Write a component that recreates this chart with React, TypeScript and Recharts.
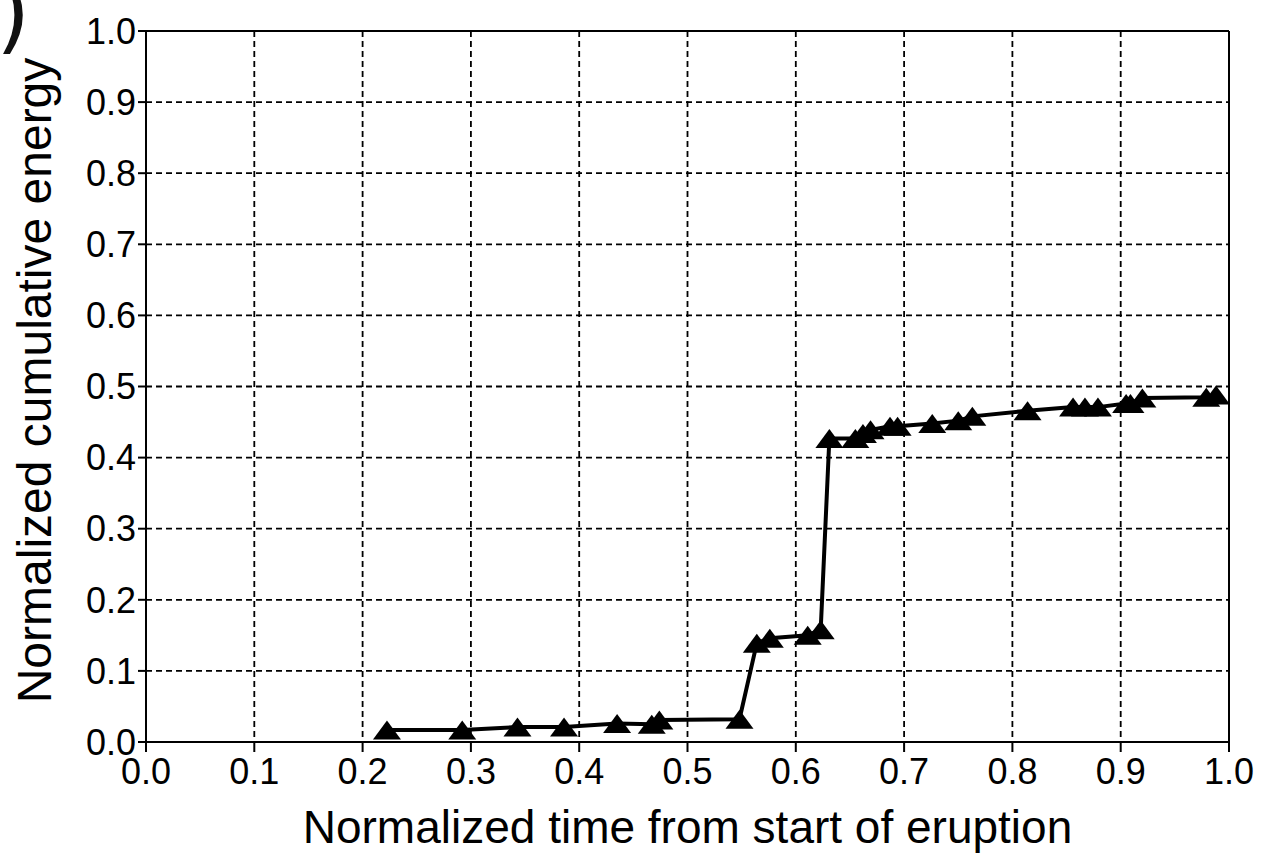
import {
  LineChart,
  Line,
  XAxis,
  YAxis,
  CartesianGrid,
  ReferenceLine,
} from "recharts";

// normalized time (x) and normalized cumulative energy (y)
const times = [
  0.2225, 0.292, 0.343, 0.386, 0.435, 0.467, 0.474, 0.548, 0.564, 0.576,
  0.611, 0.623, 0.631, 0.655, 0.662, 0.669, 0.687, 0.694, 0.726, 0.75,
  0.763, 0.814, 0.856, 0.867, 0.879, 0.905, 0.909, 0.92, 0.979, 0.988,
];
const energies = [
  0.017, 0.017, 0.021, 0.021, 0.026, 0.025, 0.031, 0.032, 0.139, 0.146,
  0.15, 0.158, 0.427, 0.427, 0.434, 0.439, 0.444, 0.444, 0.448, 0.452,
  0.458, 0.466, 0.471, 0.471, 0.471, 0.476, 0.476, 0.484, 0.485, 0.488,
];
const ticks = [0, 0.1, 0.2, 0.3, 0.4, 0.5, 0.6, 0.7, 0.8, 0.9, 1.0];

const data = times.map((t, i) => ({ t, e: energies[i] }));

const FONT = "'Liberation Sans', Arial, sans-serif";

function Triangle(props: any) {
  const { cx, cy } = props;
  if (cx == null || cy == null) return null;
  const w = 14;
  const h = 9.5;
  return (
    <path
      d={`M${cx},${cy - h} L${cx + w},${cy + h} L${cx - w},${cy + h} Z`}
      fill="#000"
    />
  );
}

export default function App() {
  return (
    <div
      style={{
        position: "absolute",
        left: 0,
        top: 0,
        width: 1265,
        height: 855,
        background: "#fff",
        overflow: "hidden",
      }}
    >
      <span
        style={{
          position: "absolute",
          left: -4,
          top: -32,
          fontSize: 88,
          fontFamily: "'DejaVu Sans', sans-serif",
          color: "#111",
          lineHeight: 1,
        }}
      >
        )
      </span>
      <LineChart
        width={1265}
        height={855}
        data={data}
        margin={{ top: 31, right: 36, bottom: 0, left: 0 }}
      >
        <CartesianGrid
          stroke="#000"
          strokeWidth={1.8}
          strokeDasharray="6 4"
          horizontalValues={ticks.slice(1, -1)}
          verticalValues={ticks.slice(1, -1)}
        />
        <XAxis
          dataKey="t"
          type="number"
          domain={[0, 1]}
          ticks={ticks}
          tickFormatter={(v: number) => v.toFixed(1)}
          stroke="#000"
          strokeWidth={2}
          tickSize={10}
          tick={{ fontSize: 36, fill: "#000", fontFamily: FONT }}
          tickMargin={6}
          interval={0}
          height={113}
          label={{
            value: "Normalized time from start of eruption",
            position: "insideBottom",
            offset: 12,
            style: { fontSize: 46, fill: "#000", fontFamily: FONT },
          }}
        />
        <YAxis
          type="number"
          domain={[0, 1]}
          ticks={ticks}
          tickFormatter={(v: number) => v.toFixed(1)}
          stroke="#000"
          strokeWidth={2}
          tickSize={8}
          tick={{ fontSize: 36, fill: "#000", fontFamily: FONT }}
          tickMargin={2}
          interval={0}
          width={146}
          label={{
            value: "Normalized cumulative energy",
            angle: -90,
            position: "insideLeft",
            offset: 34,
            dy: -6,
            style: {
              fontSize: 48,
              fill: "#000",
              fontFamily: FONT,
              textAnchor: "middle",
            },
          }}
        />
        <ReferenceLine y={1} stroke="#000" strokeWidth={2} />
        <ReferenceLine x={1} stroke="#000" strokeWidth={2} />
        <Line
          dataKey="e"
          type="linear"
          stroke="#000"
          strokeWidth={4}
          dot={<Triangle />}
          activeDot={false}
          isAnimationActive={false}
        />
      </LineChart>
    </div>
  );
}
